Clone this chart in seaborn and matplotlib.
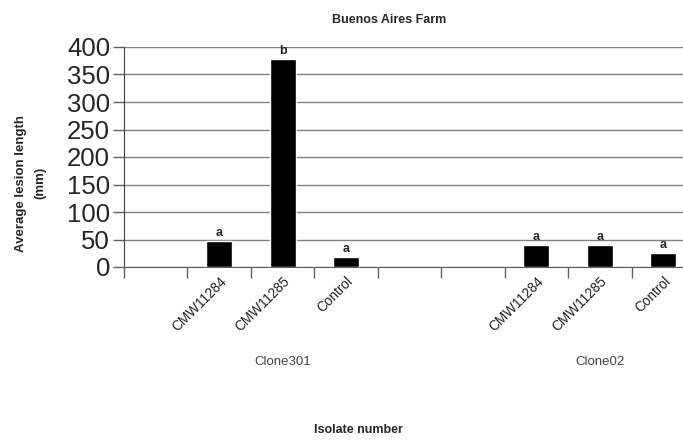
import pandas as pd
import matplotlib
matplotlib.use("Agg")
import matplotlib.pyplot as plt
import matplotlib.transforms as mtransforms
import seaborn as sns

# Data
clones = ["Clone301", "Clone02"]
isolates = ["CMW11284", "CMW11285", "Control"]
clone301_vals = [47, 378, 18]
clone02_vals = [40, 40, 25]
clone301_letters = ["a", "b", "a"]
clone02_letters = ["a", "a", "a"]
y_ticks = [0, 50, 100, 150, 200, 250, 300, 350, 400]

sns.set_style("white")
plt.rcParams['font.family'] = ['Liberation Sans', 'DejaVu Sans']

# Category slots: blank, 3 isolates, blank, blank, 3 isolates
slots = [" "] + [f"{clones[0]} {i}" for i in isolates] + ["  ", "   "] + \
        [f"{clones[1]} {i}" for i in isolates]
slot_labels = [""] + isolates + ["", ""] + isolates

df = pd.DataFrame({
    "slot": [f"{clones[0]} {i}" for i in isolates] + [f"{clones[1]} {i}" for i in isolates],
    "value": clone301_vals + clone02_vals,
    "letter": clone301_letters + clone02_letters,
})

fig = plt.figure(figsize=(6.83, 4.45), dpi=100)
ax = fig.add_axes([124 / 683, 178 / 445, 571 / 683, 220 / 445])

sns.barplot(data=df, x="slot", y="value", order=slots, color="black",
            width=0.41, saturation=1, ax=ax, zorder=3)

ax.set_xlim(-0.5, len(slots) - 0.5)
ax.set_ylim(0, 400)
ax.set_yticks(y_ticks)
ax.set_yticklabels([str(v) for v in y_ticks], fontsize=18.5)
ax.grid(axis="y", color="#808080", linewidth=1.0, zorder=0)
ax.set_axisbelow(True)

# tick marks at slot boundaries, labels at slot centres
ax.set_xticks([i - 0.5 for i in range(len(slots) + 1)])
ax.set_xticklabels([])
ax.tick_params(axis="x", which="major", direction="out", length=8, width=1, color="#606060", bottom=True)
ax.set_xticks(range(len(slots)), minor=True)
ax.set_xticklabels(slot_labels, minor=True, rotation=45, ha="right",
                   rotation_mode="anchor", fontsize=9.8, color="#222222")
ax.tick_params(axis="x", which="minor", length=0, pad=5)
ax.tick_params(axis="y", direction="out", length=8, width=1, color="#606060", left=True, pad=2)

for s in ["top", "right"]:
    ax.spines[s].set_visible(False)
ax.spines["left"].set_color("#404040")
ax.spines["bottom"].set_color("#606060")
ax.set_xlabel("")
ax.set_ylabel("")

# significance letters
for _, row in df.iterrows():
    xpos = slots.index(row["slot"])
    ax.text(xpos, row["value"] + 4, row["letter"], ha="center", va="bottom",
            fontsize=9, fontweight="bold")

# clone group labels
trans = mtransforms.blended_transform_factory(ax.transData, fig.transFigure)
ax.text(2, 83 / 445, clones[0], transform=trans, ha="center", va="center",
        fontsize=9.5, color="#444444")
ax.text(7, 83 / 445, clones[1], transform=trans, ha="center", va="center",
        fontsize=9.5, color="#444444")

fig.text(389 / 683, 0.955, "Buenos Aires Farm", ha="center", va="center",
         fontsize=9, fontweight="bold")
fig.text(31 / 683, 262 / 445, "Average lesion length\n(mm)", ha="center", va="center",
         rotation=90, fontsize=9.5, fontweight="bold", linespacing=1.8)
fig.text(358 / 683, 15 / 445, "Isolate number", ha="center", va="center",
         fontsize=9, fontweight="bold")

fig.savefig("out.png", dpi=100)
